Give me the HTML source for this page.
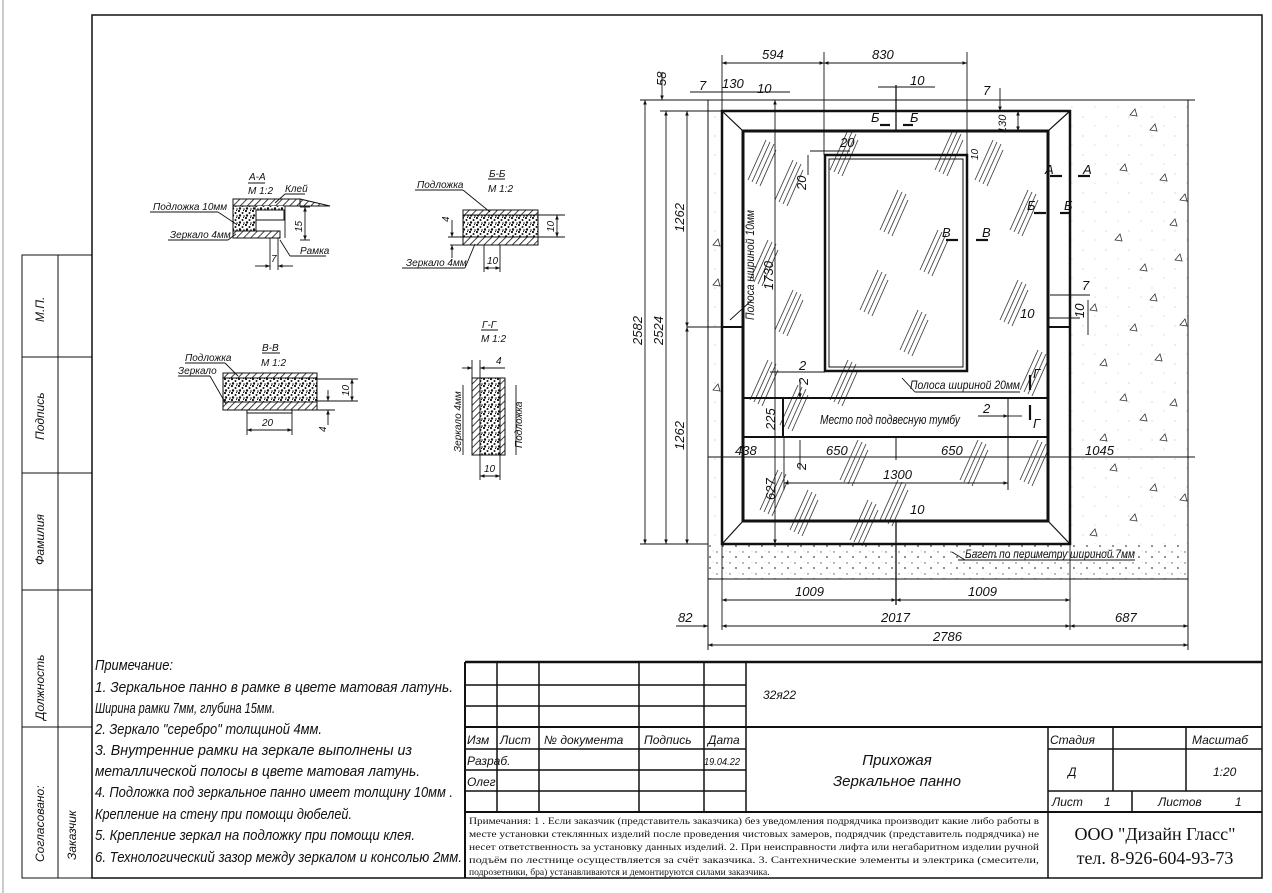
<!DOCTYPE html>
<html><head><meta charset="utf-8"><style>
html,body{margin:0;padding:0;background:#fff;}
svg{display:block;}
.t{font-family:"Liberation Sans",sans-serif;font-style:italic;fill:#111;}
.s{font-family:"Liberation Serif",serif;fill:#111;}
</style></head><body>
<svg width="1272" height="893" viewBox="0 0 1272 893" xmlns="http://www.w3.org/2000/svg">
<defs>
<marker id="a" viewBox="0 0 10 10" refX="10" refY="5" markerWidth="7" markerHeight="5" orient="auto-start-reverse"><path d="M0,1 L10,5 L0,9 z" fill="#111"/></marker>
<pattern id="st" width="7" height="7" patternUnits="userSpaceOnUse"><rect width="7" height="7" fill="#fff"/><circle cx="1" cy="1" r="1.1" fill="#111"/><circle cx="4.5" cy="3" r="1" fill="#111"/><circle cx="2" cy="5.5" r="1.2" fill="#111"/><circle cx="6" cy="6" r=".8" fill="#111"/><circle cx="5.5" cy="0.5" r=".6" fill="#111"/></pattern>
<pattern id="sp" width="23" height="19" patternUnits="userSpaceOnUse"><circle cx="2" cy="3" r=".5" fill="#999"/><circle cx="14" cy="12" r=".45" fill="#aaa"/></pattern>
<pattern id="fl" width="13" height="11" patternUnits="userSpaceOnUse"><circle cx="2" cy="2" r=".7" fill="#555"/><circle cx="8" cy="7" r=".9" fill="#444"/><circle cx="11" cy="1" r=".4" fill="#888"/></pattern>
<pattern id="hh" width="5" height="5" patternUnits="userSpaceOnUse" patternTransform="rotate(45)"><rect width="5" height="5" fill="#fff"/><line x1="0" y1="0" x2="0" y2="5" stroke="#111" stroke-width="1.6"/></pattern>
<g id="gh" stroke="#444" stroke-width=".9" fill="none"><line x1="0" y1="40" x2="18" y2="0"/><line x1="4" y1="42" x2="22" y2="2"/><line x1="8" y1="44" x2="26" y2="4"/><line x1="12" y1="46" x2="28" y2="10"/></g>
<g id="tr"><path d="M0,0 L5,-6 L7,1 z" fill="none" stroke="#333" stroke-width=".8"/></g>
</defs>

<line x1="3" y1="0" x2="3" y2="893" stroke="#999" stroke-width="1"/>
<rect x="92" y="15" width="1170" height="863" fill="none" stroke="#111" stroke-width="1.5"/>
<g stroke="#111" stroke-width="1" fill="none">
<rect x="22" y="255" width="70" height="623"/>
<line x1="58" y1="255" x2="58" y2="878"/>
<line x1="22" y1="357" x2="92" y2="357"/>
<line x1="22" y1="473" x2="92" y2="473"/>
<line x1="22" y1="590" x2="92" y2="590"/>
<line x1="22" y1="727" x2="92" y2="727"/>
</g>
<g class="t" font-size="12">
<text transform="translate(44,322) rotate(-90)">М.П.</text>
<text transform="translate(44,440) rotate(-90)">Подпись</text>
<text transform="translate(44,565) rotate(-90)">Фамилия</text>
<text transform="translate(44,720) rotate(-90)">Должность</text>
<text transform="translate(44,862) rotate(-90)">Согласовано:</text>
<text transform="translate(76,860) rotate(-90)">Заказчик</text>
</g>

<g class="t" font-size="15" lengthAdjust="spacingAndGlyphs">
<text x="95" y="670" textLength="78" lengthAdjust="spacingAndGlyphs">Примечание:</text>
<text x="95" y="692" textLength="358" lengthAdjust="spacingAndGlyphs">1. Зеркальное панно в рамке в цвете матовая латунь.</text>
<text x="95" y="713" textLength="180" lengthAdjust="spacingAndGlyphs">Ширина рамки 7мм, глубина 15мм.</text>
<text x="95" y="734" textLength="227" lengthAdjust="spacingAndGlyphs">2. Зеркало "серебро" толщиной 4мм.</text>
<text x="95" y="755" textLength="317" lengthAdjust="spacingAndGlyphs">3. Внутренние рамки на зеркале выполнены из</text>
<text x="95" y="776" textLength="325" lengthAdjust="spacingAndGlyphs">металлической полосы в цвете матовая латунь.</text>
<text x="95" y="797" textLength="358" lengthAdjust="spacingAndGlyphs">4. Подложка под зеркальное панно имеет толщину 10мм .</text>
<text x="95" y="819" textLength="257" lengthAdjust="spacingAndGlyphs">Крепление на стену при помощи дюбелей.</text>
<text x="95" y="840" textLength="320" lengthAdjust="spacingAndGlyphs">5. Крепление зеркал на подложку при помощи клея.</text>
<text x="95" y="862" textLength="367" lengthAdjust="spacingAndGlyphs">6. Технологический зазор между зеркалом и консолью 2мм.</text>
</g>

<g stroke="#111" fill="none">
<line x1="465" y1="662" x2="1262" y2="662" stroke-width="2.5"/>
<line x1="465" y1="662" x2="465" y2="878" stroke-width="2"/>
<line x1="465" y1="727" x2="1262" y2="727" stroke-width="2"/>
<line x1="465" y1="812" x2="1262" y2="812" stroke-width="2"/>
<g stroke-width="1.5">
<line x1="497" y1="662" x2="497" y2="812"/>
<line x1="539" y1="662" x2="539" y2="812"/>
<line x1="639" y1="662" x2="639" y2="812"/>
<line x1="704" y1="662" x2="704" y2="812"/>
<line x1="746" y1="662" x2="746" y2="812"/>
<line x1="1048" y1="727" x2="1048" y2="878"/>
<line x1="1113" y1="727" x2="1113" y2="791"/>
<line x1="1186" y1="727" x2="1186" y2="791"/>
<line x1="1132" y1="791" x2="1132" y2="812"/>
<line x1="465" y1="685" x2="746" y2="685"/>
<line x1="465" y1="706" x2="746" y2="706"/>
<line x1="465" y1="749" x2="746" y2="749"/>
<line x1="465" y1="770" x2="746" y2="770"/>
<line x1="465" y1="791" x2="746" y2="791"/>
<line x1="1048" y1="749" x2="1262" y2="749"/>
<line x1="1048" y1="791" x2="1262" y2="791"/>
</g></g>
<g class="t" font-size="12">
<text x="763" y="699">32я22</text>
<text x="467" y="744">Изм</text><text x="500" y="744">Лист</text>
<text x="544" y="744">№ документа</text><text x="644" y="744">Подпись</text><text x="708" y="744">Дата</text>
<text x="467" y="765">Разраб.</text><text x="704" y="765" font-size="10" textLength="36" lengthAdjust="spacingAndGlyphs">19.04.22</text>
<text x="467" y="786">Олег</text>
<text x="897" y="765" font-size="15" text-anchor="middle">Прихожая</text>
<text x="897" y="786" font-size="15" text-anchor="middle">Зеркальное панно</text>
<text x="1050" y="744">Стадия</text><text x="1192" y="744">Масштаб</text>
<text x="1068" y="776">Д</text><text x="1213" y="776">1:20</text>
<text x="1052" y="806">Лист</text><text x="1104" y="806">1</text>
<text x="1158" y="806">Листов</text><text x="1235" y="806">1</text>
</g>
<g class="s" font-size="9.6">
<text x="469" y="824" textLength="570" lengthAdjust="spacingAndGlyphs">Примечания: 1 .  Если заказчик (представитель заказчика) без уведомления подрядчика производит какие либо работы в</text>
<text x="469" y="837" textLength="570" lengthAdjust="spacingAndGlyphs">месте установки стеклянных изделий после проведения чистовых замеров, подрядчик (представитель подрядчика) не</text>
<text x="469" y="850" textLength="570" lengthAdjust="spacingAndGlyphs">несет ответственность за установку данных изделий.  2. При неисправности лифта или негабаритном изделии ручной</text>
<text x="469" y="863" textLength="570" lengthAdjust="spacingAndGlyphs">подъём по лестнице осуществляется за счёт заказчика. 3. Сантехнические элементы и электрика (смесители,</text>
<text x="469" y="875">подрозетники, бра) устанавливаются и демонтируются силами заказчика.</text>
</g>
<text class="s" x="1155" y="840" font-size="18" text-anchor="middle">ООО "Дизайн Гласс"</text>
<text class="s" x="1155" y="864" font-size="18" text-anchor="middle">тел. 8-926-604-93-73</text>

<rect x="1070" y="100" width="118" height="444" fill="url(#sp)"/>
<rect x="708" y="100" width="14" height="444" fill="url(#sp)"/>
<rect x="708" y="544" width="480" height="35" fill="url(#fl)"/>
<g>
<use href="#tr" x="1130" y="115"/><use href="#tr" x="1150" y="130"/><use href="#tr" x="1120" y="170"/><use href="#tr" x="1160" y="180"/><use href="#tr" x="1180" y="200"/>
<use href="#tr" x="1115" y="240"/><use href="#tr" x="1170" y="225"/><use href="#tr" x="1140" y="270"/><use href="#tr" x="1175" y="260"/><use href="#tr" x="1150" y="300"/>
<use href="#tr" x="1090" y="310"/><use href="#tr" x="1130" y="330"/><use href="#tr" x="1180" y="325"/><use href="#tr" x="1155" y="360"/><use href="#tr" x="1100" y="365"/>
<use href="#tr" x="1120" y="400"/><use href="#tr" x="1170" y="405"/><use href="#tr" x="1140" y="420"/><use href="#tr" x="1100" y="440"/><use href="#tr" x="1160" y="440"/>
<use href="#tr" x="1110" y="470"/><use href="#tr" x="1150" y="490"/><use href="#tr" x="1180" y="500"/><use href="#tr" x="1130" y="520"/><use href="#tr" x="1090" y="535"/>
<use href="#tr" x="713" y="245"/><use href="#tr" x="713" y="285"/><use href="#tr" x="713" y="390"/>
</g>
<g stroke="#111" fill="none" stroke-width="1">
<line x1="708" y1="100" x2="1195" y2="100"/>
<line x1="708" y1="579" x2="1188" y2="579"/>
<line x1="708" y1="100" x2="708" y2="650"/>
<line x1="1188" y1="100" x2="1188" y2="650"/>
<line x1="708" y1="457" x2="1195" y2="457"/>
</g>
<g>
<use href="#gh" x="748" y="140"/><use href="#gh" x="775" y="160"/><use href="#gh" x="750" y="240"/><use href="#gh" x="775" y="290"/>
<use href="#gh" x="750" y="360"/><use href="#gh" x="760" y="470"/><use href="#gh" x="790" y="490"/><use href="#gh" x="830" y="130"/>
<use href="#gh" x="880" y="190"/><use href="#gh" x="860" y="270"/><use href="#gh" x="920" y="230"/><use href="#gh" x="900" y="310"/>
<use href="#gh" x="935" y="130"/><use href="#gh" x="975" y="140"/><use href="#gh" x="1010" y="190"/><use href="#gh" x="1000" y="280"/>
<use href="#gh" x="1020" y="350"/><use href="#gh" x="840" y="440"/><use href="#gh" x="960" y="440"/><use href="#gh" x="880" y="480"/>
<use href="#gh" x="1020" y="440"/><use href="#gh" x="830" y="360"/><use href="#gh" x="780" y="385"/><use href="#gh" x="850" y="500"/>
</g>
<g stroke="#111" fill="none">
<rect x="722" y="111" width="348" height="433" stroke-width="2.5"/>
<rect x="743" y="131" width="305" height="390" stroke-width="3"/>
<line x1="722" y1="111" x2="743" y2="131" stroke-width="1.2"/>
<line x1="1070" y1="111" x2="1048" y2="131" stroke-width="1.2"/>
<line x1="722" y1="544" x2="743" y2="521" stroke-width="1.2"/>
<line x1="1070" y1="544" x2="1048" y2="521" stroke-width="1.2"/>
<rect x="825" y="155" width="142" height="216" stroke-width="2.5"/>
<rect x="829" y="159" width="134" height="208" stroke-width="1"/>
<line x1="743" y1="398" x2="1048" y2="398" stroke-width="2"/>
<line x1="743" y1="437" x2="1048" y2="437" stroke-width="2"/>
<line x1="783" y1="398" x2="783" y2="437" stroke-width="2"/>
<line x1="1008" y1="398" x2="1008" y2="490" stroke-width="1"/>
<line x1="722" y1="327" x2="743" y2="327" stroke-width="2"/>
<line x1="1048" y1="327" x2="1070" y2="327" stroke-width="2"/>
<line x1="896" y1="521" x2="896" y2="605" stroke-width="1.3"/>
<line x1="896" y1="85" x2="896" y2="131" stroke-width="1.3"/>
<line x1="896" y1="437" x2="896" y2="460" stroke-width="1"/>
</g>
<g stroke="#111" stroke-width=".9" fill="none">
<line x1="722" y1="55" x2="722" y2="111"/><line x1="824" y1="52" x2="824" y2="155"/><line x1="967" y1="52" x2="967" y2="155"/>
<line x1="722" y1="63" x2="824" y2="63" marker-start="url(#a)" marker-end="url(#a)"/>
<line x1="824" y1="63" x2="967" y2="63" marker-start="url(#a)" marker-end="url(#a)"/>
<line x1="690" y1="92" x2="790" y2="92"/>
<line x1="640" y1="100" x2="708" y2="100"/><line x1="660" y1="111" x2="722" y2="111"/><line x1="640" y1="544" x2="708" y2="544"/>
<line x1="645" y1="100" x2="645" y2="544" marker-start="url(#a)" marker-end="url(#a)"/>
<line x1="666" y1="111" x2="666" y2="544" marker-start="url(#a)" marker-end="url(#a)"/>
<line x1="687" y1="111" x2="687" y2="327" marker-start="url(#a)" marker-end="url(#a)"/>
<line x1="687" y1="327" x2="687" y2="544" marker-start="url(#a)" marker-end="url(#a)"/>
<line x1="687" y1="327" x2="722" y2="327"/>
<line x1="775" y1="100" x2="775" y2="544" marker-start="url(#a)" marker-end="url(#a)"/>
<line x1="662" y1="72" x2="662" y2="100" marker-end="url(#a)"/>
<line x1="722" y1="600" x2="896" y2="600" marker-start="url(#a)" marker-end="url(#a)"/>
<line x1="896" y1="600" x2="1070" y2="600" marker-start="url(#a)" marker-end="url(#a)"/>
<line x1="722" y1="544" x2="722" y2="630"/><line x1="1070" y1="544" x2="1070" y2="630"/>
<line x1="722" y1="626" x2="1070" y2="626" marker-start="url(#a)" marker-end="url(#a)"/>
<line x1="1070" y1="626" x2="1188" y2="626" marker-start="url(#a)" marker-end="url(#a)"/>
<line x1="676" y1="626" x2="708" y2="626" marker-end="url(#a)"/>
<line x1="708" y1="645" x2="1188" y2="645" marker-start="url(#a)" marker-end="url(#a)"/>
<line x1="784" y1="483" x2="1008" y2="483" marker-start="url(#a)" marker-end="url(#a)"/>
<line x1="784" y1="437" x2="784" y2="490"/>
<line x1="878" y1="87" x2="935" y2="87"/>
<line x1="1000" y1="88" x2="1000" y2="111" marker-end="url(#a)"/>
<line x1="1018" y1="111" x2="1018" y2="131" marker-start="url(#a)" marker-end="url(#a)"/>
<line x1="810" y1="151" x2="850" y2="151"/><line x1="808" y1="155" x2="808" y2="175"/>
<line x1="1050" y1="295" x2="1090" y2="295"/><line x1="1048" y1="318" x2="1080" y2="318"/><line x1="1088" y1="300" x2="1088" y2="335"/>
<line x1="800" y1="380" x2="800" y2="398" marker-end="url(#a)"/><line x1="800" y1="440" x2="800" y2="470"/>
<line x1="770" y1="372" x2="825" y2="372"/>
<line x1="1008" y1="416" x2="1022" y2="416"/><line x1="978" y1="416" x2="1008" y2="416" marker-end="url(#a)"/>
<line x1="896" y1="520" x2="935" y2="520"/><line x1="877" y1="520" x2="896" y2="520"/>
<line x1="902" y1="378" x2="915" y2="392"/><line x1="915" y1="392" x2="1020" y2="392"/>
<line x1="958" y1="560" x2="1135" y2="560"/><line x1="952" y1="552" x2="965" y2="560"/>
<line x1="730" y1="320" x2="752" y2="300"/>
</g>
<g stroke="#111" stroke-width="2.2">
<line x1="880" y1="125" x2="890" y2="125"/><line x1="903" y1="125" x2="913" y2="125"/>
<line x1="946" y1="240" x2="958" y2="240"/><line x1="976" y1="240" x2="988" y2="240"/>
<line x1="1050" y1="176" x2="1062" y2="176"/><line x1="1078" y1="176" x2="1090" y2="176"/>
<line x1="1034" y1="213" x2="1046" y2="213"/><line x1="1060" y1="213" x2="1070" y2="213"/>
<line x1="1030" y1="375" x2="1030" y2="390"/><line x1="1030" y1="405" x2="1030" y2="420"/>
</g>
<g class="t" font-size="13">
<text x="762" y="59">594</text><text x="872" y="59">830</text>
<text transform="translate(666,86) rotate(-90)">58</text>
<text x="699" y="90">7</text><text x="722" y="88">130</text><text x="757" y="93">10</text>
<text x="910" y="85">10</text><text x="983" y="95">7</text>
<text transform="translate(1006,133) rotate(-90)" font-size="11">130</text>
<text x="871" y="122">Б</text><text x="910" y="122">Б</text>
<text x="840" y="147">20</text><text transform="translate(806,190) rotate(-90)">20</text>
<text transform="translate(978,160) rotate(-90)" font-size="10">10</text>
<text x="942" y="237">В</text><text x="982" y="237">В</text>
<text x="1045" y="174">А</text><text x="1083" y="174">А</text>
<text x="1027" y="210">Б</text><text x="1064" y="210">Б</text>
<text x="1082" y="290">7</text><text transform="translate(1084,318) rotate(-90)">10</text><text x="1020" y="318">10</text>
<text transform="translate(754,320) rotate(-90)" font-size="12" textLength="110" lengthAdjust="spacingAndGlyphs">Полоса шириной 10мм</text>
<text transform="translate(773,290) rotate(-90)">1730</text>
<text transform="translate(684,232) rotate(-90)">1262</text>
<text transform="translate(684,450) rotate(-90)">1262</text>
<text transform="translate(663,345) rotate(-90)">2524</text>
<text transform="translate(642,345) rotate(-90)">2582</text>
<text x="910" y="389" font-size="12" textLength="110" lengthAdjust="spacingAndGlyphs">Полоса шириной 20мм</text>
<text x="1033" y="378">Г</text><text x="1033" y="428">Г</text>
<text x="983" y="413">2</text><text x="799" y="370">2</text>
<text transform="translate(808,385) rotate(-90)">2</text>
<text x="820" y="424" font-size="13" textLength="140" lengthAdjust="spacingAndGlyphs">Место под подвесную тумбу</text>
<text transform="translate(775,430) rotate(-90)">225</text>
<text x="735" y="455">438</text><text x="826" y="455">650</text><text x="941" y="455">650</text>
<text x="1085" y="455">1045</text><text x="883" y="479">1300</text>
<text transform="translate(806,470) rotate(-90)">2</text>
<text transform="translate(775,500) rotate(-90)">627</text>
<text x="910" y="514">10</text>
<text x="965" y="558" font-size="12" textLength="170" lengthAdjust="spacingAndGlyphs">Багет по периметру шириной 7мм</text>
<text x="795" y="596">1009</text><text x="968" y="596">1009</text>
<text x="678" y="622">82</text><text x="881" y="622">2017</text><text x="1115" y="622">687</text>
<text x="933" y="641">2786</text>
</g>

<rect x="233" y="199" width="67" height="7" fill="url(#hh)" stroke="#111"/>
<path d="M300,199 L330,206 L300,206z" fill="url(#hh)" stroke="#111"/>
<rect x="233" y="206" width="23" height="25" fill="url(#st)" stroke="#111"/>
<rect x="256" y="206" width="28" height="4" fill="url(#st)"/>
<rect x="256" y="210" width="28" height="10" fill="#fff" stroke="#111"/>
<rect x="233" y="231" width="47" height="7" fill="url(#hh)" stroke="#111"/>
<g stroke="#111" stroke-width=".9" fill="none">
<line x1="285" y1="206" x2="285" y2="238"/>
<line x1="300" y1="207" x2="310" y2="207"/><line x1="300" y1="240" x2="310" y2="240"/>
<line x1="305" y1="207" x2="305" y2="240" marker-start="url(#a)" marker-end="url(#a)"/>
<line x1="270" y1="238" x2="270" y2="270"/><line x1="278" y1="238" x2="278" y2="270"/>
<line x1="255" y1="266" x2="270" y2="266" marker-end="url(#a)"/><line x1="293" y1="266" x2="278" y2="266" marker-end="url(#a)"/>
<line x1="150" y1="212" x2="218" y2="212"/><line x1="218" y1="212" x2="236" y2="224"/>
<line x1="168" y1="240" x2="228" y2="240"/><line x1="228" y1="240" x2="236" y2="234"/>
<line x1="285" y1="194" x2="305" y2="194"/><line x1="285" y1="194" x2="275" y2="203"/>
<line x1="290" y1="256" x2="326" y2="256"/><line x1="290" y1="256" x2="280" y2="240"/>
<line x1="248" y1="183" x2="265" y2="183"/>
</g>
<g class="t" font-size="10">
<text x="249" y="180">А-А</text><text x="248" y="194">М 1:2</text>
<text x="285" y="192">Клей</text><text x="153" y="210">Подложка 10мм</text>
<text x="170" y="238">Зеркало 4мм</text><text x="300" y="254">Рамка</text>
<text transform="translate(302,232) rotate(-90)">15</text><text x="271" y="262">7</text>
</g>

<rect x="463" y="210" width="75" height="5" fill="url(#hh)" stroke="#111"/>
<rect x="463" y="215" width="75" height="22" fill="url(#st)" stroke="#111"/>
<rect x="463" y="237" width="75" height="8" fill="url(#hh)" stroke="#111"/>
<g stroke="#111" stroke-width=".9" fill="none">
<line x1="538" y1="215" x2="565" y2="215"/><line x1="448" y1="237" x2="565" y2="237"/>
<line x1="557" y1="215" x2="557" y2="237" marker-start="url(#a)" marker-end="url(#a)"/>
<line x1="450" y1="245" x2="463" y2="245"/><line x1="452" y1="220" x2="452" y2="237" marker-end="url(#a)"/><line x1="452" y1="258" x2="452" y2="245" marker-end="url(#a)"/>
<line x1="484" y1="245" x2="484" y2="272"/><line x1="500" y1="245" x2="500" y2="272"/>
<line x1="484" y1="268" x2="500" y2="268" marker-start="url(#a)" marker-end="url(#a)"/>
<line x1="415" y1="190" x2="463" y2="190"/><line x1="463" y1="190" x2="490" y2="212"/>
<line x1="402" y1="268" x2="465" y2="268"/><line x1="465" y1="268" x2="475" y2="244"/>
<line x1="488" y1="179" x2="505" y2="179"/>
</g>
<g class="t" font-size="10">
<text x="489" y="177">Б-Б</text><text x="488" y="192">М 1:2</text>
<text x="417" y="188">Подложка</text><text x="406" y="266">Зеркало 4мм</text>
<text transform="translate(449,222) rotate(-90)">4</text>
<text transform="translate(554,232) rotate(-90)">10</text><text x="487" y="264">10</text>
</g>

<rect x="223" y="373" width="94" height="5" fill="url(#hh)" stroke="#111"/>
<rect x="223" y="378" width="94" height="24" fill="url(#st)" stroke="#111"/>
<rect x="223" y="402" width="94" height="8" fill="url(#hh)" stroke="#111"/>
<rect x="247" y="410" width="45" height="3" fill="#fff" stroke="#111"/>
<g stroke="#111" stroke-width=".9" fill="none">
<line x1="317" y1="379" x2="358" y2="379"/><line x1="317" y1="401" x2="358" y2="401"/>
<line x1="352" y1="379" x2="352" y2="401" marker-start="url(#a)" marker-end="url(#a)"/>
<line x1="317" y1="410" x2="335" y2="410"/>
<line x1="328" y1="390" x2="328" y2="401" marker-end="url(#a)"/><line x1="328" y1="425" x2="328" y2="410" marker-end="url(#a)"/>
<line x1="247" y1="410" x2="247" y2="435"/><line x1="292" y1="410" x2="292" y2="435"/>
<line x1="247" y1="430" x2="292" y2="430" marker-start="url(#a)" marker-end="url(#a)"/>
<line x1="185" y1="363" x2="225" y2="363"/><line x1="225" y1="363" x2="238" y2="376"/>
<line x1="178" y1="376" x2="210" y2="376"/><line x1="210" y1="376" x2="226" y2="404"/>
<line x1="262" y1="353" x2="280" y2="353"/>
</g>
<g class="t" font-size="10">
<text x="262" y="351">В-В</text><text x="261" y="366">М 1:2</text>
<text x="185" y="361">Подложка</text><text x="178" y="374">Зеркало</text>
<text transform="translate(349,396) rotate(-90)">10</text><text x="262" y="426">20</text>
<text transform="translate(326,432) rotate(-90)">4</text>
</g>

<rect x="472" y="378" width="8" height="77" fill="url(#hh)" stroke="#111"/>
<rect x="480" y="378" width="20" height="77" fill="url(#st)" stroke="#111"/>
<rect x="500" y="378" width="5" height="77" fill="url(#hh)" stroke="#111"/>
<g stroke="#111" stroke-width=".9" fill="none">
<line x1="472" y1="360" x2="472" y2="378"/><line x1="480" y1="360" x2="480" y2="378"/>
<line x1="462" y1="368" x2="472" y2="368" marker-end="url(#a)"/><line x1="505" y1="368" x2="480" y2="368" marker-end="url(#a)"/>
<line x1="480" y1="455" x2="480" y2="480"/><line x1="500" y1="455" x2="500" y2="480"/>
<line x1="480" y1="476" x2="500" y2="476" marker-start="url(#a)" marker-end="url(#a)"/>
<line x1="463" y1="385" x2="463" y2="455"/><line x1="516" y1="385" x2="516" y2="455"/>
<line x1="481" y1="330" x2="498" y2="330"/>
</g>
<g class="t" font-size="10">
<text x="482" y="328">Г-Г</text><text x="481" y="342">М 1:2</text>
<text x="496" y="364">4</text><text x="484" y="472">10</text>
<text transform="translate(461,452) rotate(-90)">Зеркало 4мм</text>
<text transform="translate(522,448) rotate(-90)">Подложка</text>
</g>
</svg>
</body></html>
